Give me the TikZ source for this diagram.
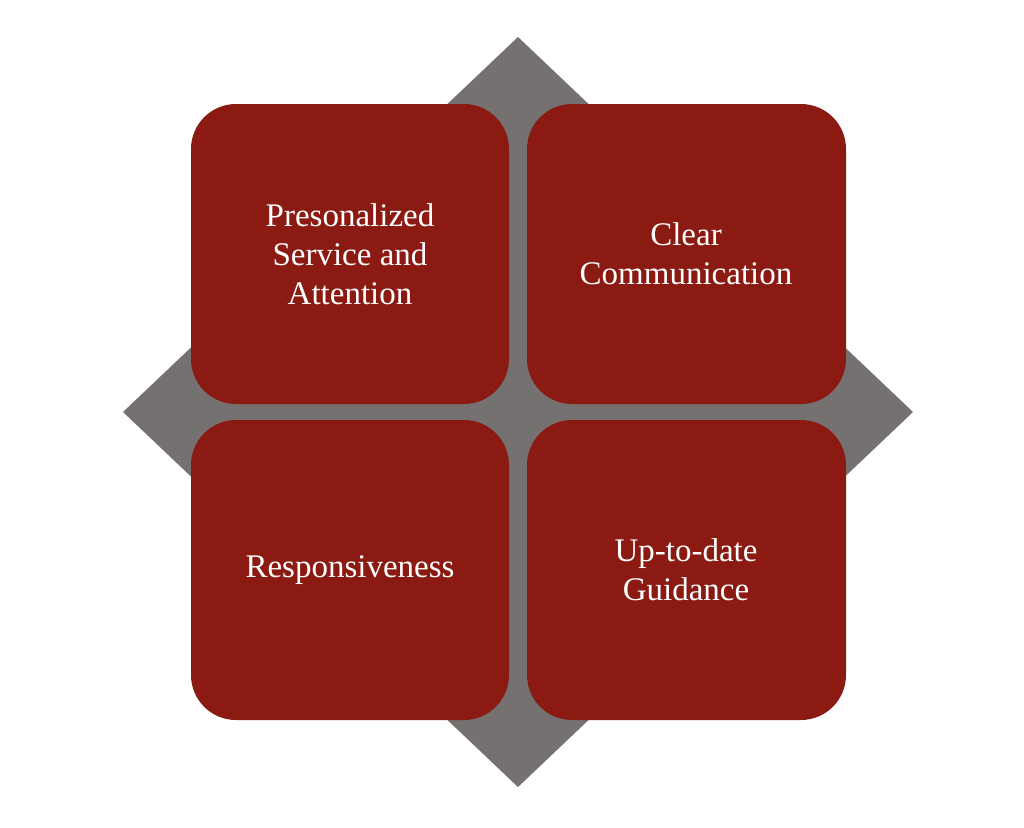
\documentclass[tikz,border=0pt]{standalone}
\usepackage{fontspec}
\setmainfont{Liberation Serif}
\begin{document}
\begin{tikzpicture}[x=1pt,y=-1pt,
  box/.style={fill=boxred,draw=none,rounded corners=45pt},
  lbl/.style={text=white,align=center,font=\fontsize{33}{39}\selectfont}]
\definecolor{boxred}{HTML}{8B1A12}
\definecolor{dgray}{HTML}{767171}
\useasboundingbox (0,0) rectangle (1024,827);
\fill[white] (0,0) rectangle (1024,827);
\fill[dgray] (518,37) -- (913,412) -- (518,787) -- (123,412) -- cycle;
\fill[box] (191,104) rectangle (509,404);
\fill[box] (527,104) rectangle (846,404);
\fill[box] (191,420) rectangle (509,720);
\fill[box] (527,420) rectangle (846,720);
\node[lbl] (a) at (350,254) {Presonalized\\Service and\\Attention};
\node[lbl] (b) at (686,254) {Clear\\Communication};
\node[lbl] (c) at (350,570) {Responsiveness};
\node[lbl] (d) at (686,570) {Up-to-date\\Guidance};
\end{tikzpicture}
\end{document}
